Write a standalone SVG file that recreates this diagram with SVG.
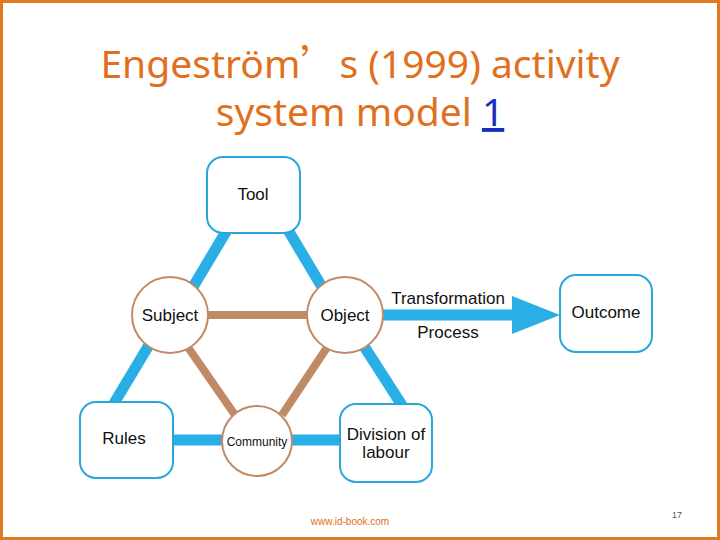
<svg xmlns="http://www.w3.org/2000/svg" width="720" height="540" viewBox="0 0 720 540">
<style>
.box{fill:#fff;stroke:#29a6de;stroke-width:2}
.cir{fill:#fff;stroke:#c08a66;stroke-width:2}
.bl{stroke:#29aee6;stroke-width:11}
.br{stroke:#c08a66;stroke-width:8}
.t{font-family:"Liberation Sans",Arial,sans-serif;font-size:17px;text-anchor:middle;fill:#111}
.ti{font-family:"Noto Sans","Noto Sans CJK SC",sans-serif;font-size:39px;text-anchor:middle;fill:#e07020}
</style>
<rect x="1.5" y="1.5" width="717" height="537" fill="#fff" stroke="#e07a20" stroke-width="3"/>
<text class="ti" x="360" y="78">Engeström<tspan style="font-family:'Noto Sans CJK SC',sans-serif">’</tspan>s (1999) activity</text>
<text class="ti" x="360" y="126">system model <tspan fill="#1530c0" text-decoration="underline">1</tspan></text>
<g id="connectors">
<line class="bl" x1="230" y1="225" x2="190" y2="292"/>
<line class="bl" x1="285" y1="225" x2="325" y2="292"/>
<line class="bl" x1="152" y1="340" x2="110" y2="410"/>
<line class="bl" x1="360" y1="340" x2="405" y2="410"/>
<line class="bl" x1="165" y1="440" x2="228" y2="440"/>
<line class="bl" x1="286" y1="440" x2="345" y2="440"/>
<line class="br" x1="200" y1="315" x2="315" y2="315"/>
<line class="br" x1="185" y1="343" x2="235" y2="415"/>
<line class="br" x1="330" y1="343" x2="282" y2="415"/>
<line class="bl" x1="375" y1="315" x2="515" y2="315"/>
<polygon points="512,296 560,315 512,334" fill="#29aee6"/>
<text class="t" x="448" y="304">Transformation</text>
<text class="t" x="448" y="338">Process</text>
</g>
<g id="tool"><rect class="box" x="207" y="157" width="93" height="76" rx="16"/><text class="t" x="253" y="200">Tool</text></g>
<g id="outcome"><rect class="box" x="560" y="275" width="92" height="77" rx="16"/><text class="t" x="606" y="318">Outcome</text></g>
<g id="rules"><rect class="box" x="80" y="402" width="93" height="76" rx="16"/><text class="t" x="124" y="444">Rules</text></g>
<g id="division"><rect class="box" x="340" y="404" width="92" height="78" rx="16"/><text class="t" x="386" y="440">Division of</text><text class="t" x="386" y="458">labour</text></g>
<g id="subject"><circle class="cir" cx="170" cy="315" r="38"/><text class="t" x="170" y="321">Subject</text></g>
<g id="object"><circle class="cir" cx="345" cy="315" r="38"/><text class="t" x="345" y="321">Object</text></g>
<g id="community"><circle class="cir" cx="257" cy="441" r="35"/><text class="t" x="257" y="446" style="font-size:12px">Community</text></g>
<text x="350" y="525" style="font-family:'Liberation Sans',Arial,sans-serif;font-size:10px;fill:#e07020;text-anchor:middle">www.id-book.com</text>
<text x="677" y="518" style="font-family:'Liberation Sans',Arial,sans-serif;font-size:9px;fill:#555;text-anchor:middle">17</text>
</svg>
